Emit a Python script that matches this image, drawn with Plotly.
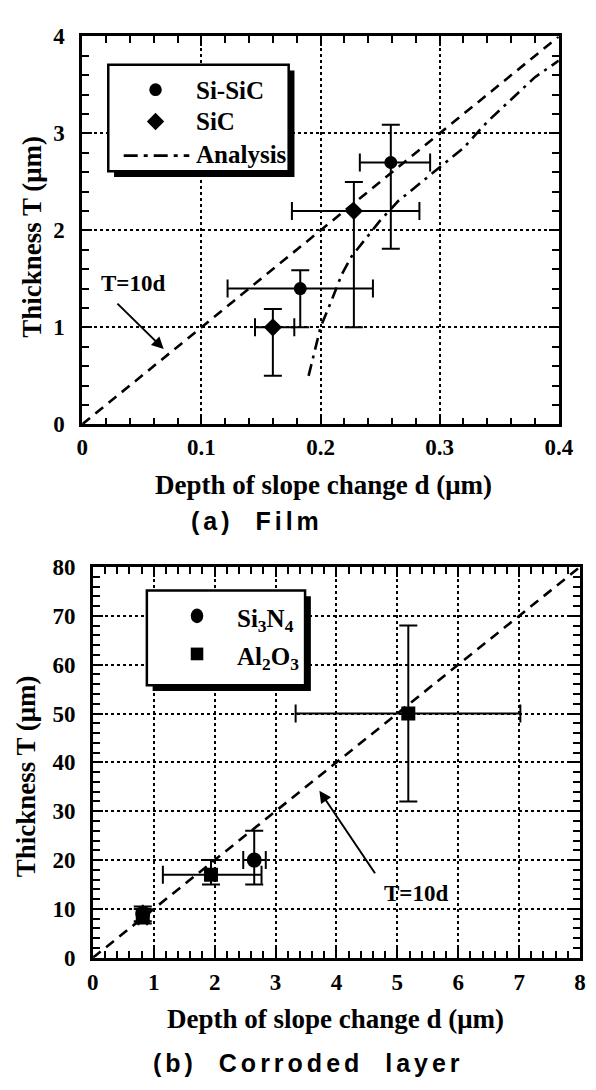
import plotly.graph_objects as go

W, H = 596, 1090

# ---------------- (a) Film ----------------
si_sic_d = [0.183, 0.259]
si_sic_T = [1.40, 2.70]
si_sic_d_plus = [0.061, 0.033]
si_sic_d_minus = [0.061, 0.026]
si_sic_T_plus = [0.19, 0.39]
si_sic_T_minus = [0.40, 0.89]

sic_d = [0.160, 0.228]
sic_T = [1.00, 2.20]
sic_d_plus = [0.018, 0.055]
sic_d_minus = [0.015, 0.052]
sic_T_plus = [0.19, 0.30]
sic_T_minus = [0.50, 1.20]

analysis_d = [0.190, 0.195, 0.200, 0.210, 0.218, 0.226, 0.235, 0.250, 0.265,
              0.280, 0.300, 0.320, 0.340, 0.360, 0.380, 0.400]
analysis_T = [0.50, 0.75, 1.00, 1.30, 1.55, 1.73, 1.87, 2.10, 2.30,
              2.45, 2.65, 2.85, 3.12, 3.35, 3.58, 3.75]

ref_a_d = [0.0, 0.4]
ref_a_T = [0.0, 4.0]

xa_ticks = [0, 0.1, 0.2, 0.3, 0.4]
xa_labels = ["0", "0.1", "0.2", "0.3", "0.4"]
ya_ticks = [0, 1, 2, 3, 4]
ya_labels = ["0", "1", "2", "3", "4"]

# ---------------- (b) Corroded layer ----------------
si3n4_d = [0.82, 2.65]
si3n4_T = [9.0, 20.0]
si3n4_d_plus = [0.0, 0.19]
si3n4_d_minus = [0.0, 0.18]
si3n4_T_plus = [1.5, 6.0]
si3n4_T_minus = [2.0, 5.0]

al2o3_d = [0.82, 1.94, 5.18]
al2o3_T = [8.5, 17.0, 50.0]
al2o3_d_plus = [0.07, 0.83, 1.84]
al2o3_d_minus = [0.07, 0.79, 1.85]
al2o3_T_plus = [1.5, 3.0, 18.0]
al2o3_T_minus = [1.0, 2.0, 18.0]

ref_b_d = [0.0, 8.0]
ref_b_T = [0.0, 80.0]

xb_ticks = [0, 1, 2, 3, 4, 5, 6, 7, 8]
xb_labels = [str(v) for v in xb_ticks]
yb_ticks = [0, 10, 20, 30, 40, 50, 60, 70, 80]
yb_labels = [str(v) for v in yb_ticks]

SERIF = "Liberation Serif"
SANS = "Liberation Sans"


def px(x):
    return x / W


def py(y):
    return 1 - y / H


def err(plus, minus, w=9):
    return dict(type="data", symmetric=False, array=plus, arrayminus=minus,
                thickness=2, width=w, color="black")


fig = go.Figure()

# (a) traces
fig.add_trace(go.Scatter(x=ref_a_d, y=ref_a_T, mode="lines", xaxis="x", yaxis="y",
                         line=dict(color="black", width=2.6, dash="10px,7px"),
                         showlegend=False, hoverinfo="skip"))
fig.add_trace(go.Scatter(x=analysis_d, y=analysis_T, mode="lines", xaxis="x", yaxis="y",
                         line=dict(color="black", width=2.6, dash="12px,6px,3px,6px"),
                         showlegend=False, hoverinfo="skip"))
fig.add_trace(go.Scatter(x=si_sic_d, y=si_sic_T, mode="markers", xaxis="x", yaxis="y",
                         marker=dict(symbol="circle", size=13, color="black"),
                         error_x=err(si_sic_d_plus, si_sic_d_minus),
                         error_y=err(si_sic_T_plus, si_sic_T_minus),
                         showlegend=False))
fig.add_trace(go.Scatter(x=sic_d, y=sic_T, mode="markers", xaxis="x", yaxis="y",
                         marker=dict(symbol="diamond", size=14, color="black"),
                         error_x=err(sic_d_plus, sic_d_minus),
                         error_y=err(sic_T_plus, sic_T_minus),
                         showlegend=False))

# (b) traces
fig.add_trace(go.Scatter(x=ref_b_d, y=ref_b_T, mode="lines", xaxis="x2", yaxis="y2",
                         line=dict(color="black", width=2.6, dash="10px,7px"),
                         showlegend=False, hoverinfo="skip"))
fig.add_trace(go.Scatter(x=al2o3_d, y=al2o3_T, mode="markers", xaxis="x2", yaxis="y2",
                         marker=dict(symbol="square", size=14, color="black"),
                         error_x=err(al2o3_d_plus, al2o3_d_minus),
                         error_y=err(al2o3_T_plus, al2o3_T_minus),
                         showlegend=False))
fig.add_trace(go.Scatter(x=si3n4_d, y=si3n4_T, mode="markers", xaxis="x2", yaxis="y2",
                         marker=dict(symbol="circle", size=15, color="black"),
                         error_x=err(si3n4_d_plus, si3n4_d_minus),
                         error_y=err(si3n4_T_plus, si3n4_T_minus),
                         showlegend=False))

tickfont = dict(family=SERIF, size=23, color="black", weight="bold")


def axis_style(domain, rng, ticks, labels, minor_dtick, standoff):
    return dict(domain=domain, range=rng, tickmode="array", tickvals=ticks, ticktext=labels,
                ticks="inside", ticklen=10, tickwidth=2, tickcolor="black",
                showline=True, linewidth=2.6, linecolor="black", mirror="allticks",
                showgrid=True, gridcolor="black", gridwidth=1.6, griddash="dot",
                zeroline=False, tickfont=tickfont, ticklabelstandoff=standoff,
                minor=dict(dtick=minor_dtick, ticks="inside", ticklen=7, tickwidth=2,
                           tickcolor="black", showgrid=False),
                fixedrange=True)


layout = dict(
    width=W, height=H,
    margin=dict(l=0, r=0, t=0, b=0),
    paper_bgcolor="white", plot_bgcolor="white",
    xaxis=axis_style([px(79), px(573)], [0, 0.4], xa_ticks, xa_labels, 0.02, 0),
    yaxis=axis_style([py(422), py(25)], [0, 4], ya_ticks, ya_labels, 0.2, 10),
    xaxis2=dict(axis_style([px(90), px(595)], [0, 8], xb_ticks, xb_labels, 0.2, 2), anchor="y2"),
    yaxis2=dict(axis_style([py(968), py(568)], [0, 80], yb_ticks, yb_labels, 2, 10), anchor="x2"),
)
layout["xaxis"]["anchor"] = "y"
layout["yaxis"]["anchor"] = "x"
fig.update_layout(**layout)

shapes = []
annotations = []


def text(x, y, s, size=24, family=SERIF, bold=True, anchor="center", angle=0, yanchor="middle"):
    annotations.append(dict(x=px(x), y=py(y), xref="paper", yref="paper", text=s,
                            showarrow=False, xanchor=anchor, yanchor=yanchor, textangle=angle,
                            font=dict(family=family, size=size, color="black",
                                      weight="bold" if bold else "normal")))


def legend_box(x0, y0, x1, y1):
    shapes.append(dict(type="rect", xref="paper", yref="paper",
                       x0=px(x0 + 6), x1=px(x1 + 6), y0=py(y1 + 6), y1=py(y0 + 6),
                       fillcolor="black", line=dict(width=0)))
    shapes.append(dict(type="rect", xref="paper", yref="paper",
                       x0=px(x0), x1=px(x1), y0=py(y1), y1=py(y0),
                       fillcolor="white", line=dict(color="black", width=2.5)))


# (a) legend
legend_box(106, 54, 293, 163)
shapes.append(dict(type="circle", xref="paper", yref="paper",
                   x0=px(148.5), x1=px(161.5), y0=py(86), y1=py(73),
                   fillcolor="black", line=dict(width=0)))
cx, cy, r = 155, 112, 9
shapes.append(dict(type="path", xref="paper", yref="paper",
                   path=f"M {px(cx - r)},{py(cy)} L {px(cx)},{py(cy - r)} L {px(cx + r)},{py(cy)} "
                        f"L {px(cx)},{py(cy + r)} Z",
                   fillcolor="black", line=dict(width=0)))
shapes.append(dict(type="line", xref="paper", yref="paper",
                   x0=px(122), x1=px(190), y0=py(147), y1=py(147),
                   line=dict(color="black", width=2.6, dash="14px,6px,4px,6px")))
text(195, 80, "Si-SiC", size=25, anchor="left")
text(195, 112, "SiC", size=25, anchor="left")
text(195, 146, "Analysis", size=25, anchor="left")

# (b) legend
legend_box(146, 592, 310, 689)
shapes.append(dict(type="circle", xref="paper", yref="paper",
                   x0=px(191.5), x1=px(204.5), y0=py(625.5), y1=py(610.5),
                   fillcolor="black", line=dict(width=0)))
shapes.append(dict(type="rect", xref="paper", yref="paper",
                   x0=px(191.5), x1=px(204.5), y0=py(663.5), y1=py(650.5),
                   fillcolor="black", line=dict(width=0)))
text(237, 605, "Si<sub>3</sub>N<sub>4</sub>", size=25, anchor="left", yanchor="top")
text(237, 644, "Al<sub>2</sub>O<sub>3</sub>", size=25, anchor="left", yanchor="top")

# axis titles and captions
text(329, 484, "Depth of slope change d (\u03bcm)", size=27)
text(27, 230, "Thickness T (\u03bcm)", size=27, angle=-90)
text(260, 521, '<span style="letter-spacing:4px">(a)\u00a0\u00a0Film</span>',
     size=25, family=SANS)

text(342, 1031, "Depth of slope change d (\u03bcm)", size=27)
text(21, 782, "Thickness T (\u03bcm)", size=27, angle=-90)
text(314, 1076, '<span style="letter-spacing:4px">(b)\u00a0\u00a0Corroded\u00a0\u00a0layer</span>',
     size=25, family=SANS)

# T=10d labels with arrows pointing at the reference lines
annotations.append(dict(x=0.0684, y=0.776, xref="x", yref="y", ax=0.0283, ay=1.26,
                        axref="x", ayref="y", text="", showarrow=True,
                        arrowhead=2, arrowsize=1.2, arrowwidth=2, arrowcolor="black"))
annotations.append(dict(x=0.043, y=1.45, xref="x", yref="y", text="T=10d", showarrow=False,
                        font=dict(family=SERIF, size=23, color="black", weight="bold")))
annotations.append(dict(x=3.72, y=34.2, xref="x2", yref="y2", ax=4.65, ay=17.0,
                        axref="x2", ayref="y2", text="", showarrow=True,
                        arrowhead=2, arrowsize=1.2, arrowwidth=2, arrowcolor="black"))
annotations.append(dict(x=5.31, y=13.2, xref="x2", yref="y2", text="T=10d", showarrow=False,
                        font=dict(family=SERIF, size=23, color="black", weight="bold")))

fig.update_layout(shapes=shapes, annotations=annotations)
fig.write_html("out.html")
